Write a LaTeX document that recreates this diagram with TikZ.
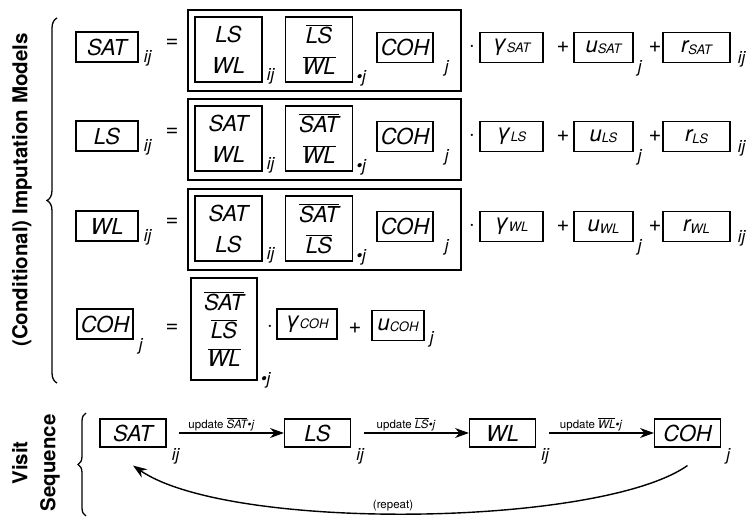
\documentclass[tikz,border=0pt]{standalone}
\usepackage{fontspec}
\setmainfont{TeX Gyre Heros}
\usetikzlibrary{arrows.meta,positioning,decorations.pathreplacing}

\newcommand{\bv}[1]{$\overline{\hbox{#1}}$}
\newcommand{\lowsub}[1]{\raisebox{-1.5pt}{\fontsize{13}{13}\selectfont #1}}

\tikzset{
  varbox/.style={draw, line width=1.1pt, minimum height=30pt, inner sep=0pt, font=\fontsize{22}{24}\selectfont\itshape},
  grpbox/.style={draw, line width=1.1pt, minimum width=67pt, minimum height=65pt, inner sep=0pt, align=center, font=\fontsize{22}{31}\selectfont\itshape},
  idx/.style={inner sep=0pt, font=\fontsize{17}{17}\selectfont\itshape},
  op/.style={inner sep=0pt, font=\fontsize{22}{22}\selectfont},
  mul/.style={inner sep=0pt, font=\fontsize{9}{9}\selectfont},
  upd/.style={inner sep=1.5pt, font=\fontsize{11.5}{11.5}\selectfont},
  side/.style={rotate=90, align=center, font=\fontsize{20.5}{28}\selectfont\bfseries},
  seq/.style={-{Stealth[length=14pt,width=10pt]}, line width=1.4pt},
  accol/.style={decorate, line width=1.3pt}
}

\begin{document}
\begin{tikzpicture}[x=1pt,y=-1pt]
\useasboundingbox (0,0) rectangle (750,518);

% titres a gauche
\node[side] (lblimp) at (22,190) {(Conditional) Imputation Models};
\draw[accol, decoration={brace,amplitude=10pt}] (57,383) -- (57,18);
\node[side] (lblvis) at (36,463) {Visit\\Sequence};
\draw[accol, decoration={brace,amplitude=8pt}] (86,516) -- (86,413);

\foreach \vn/\yc/\va/\vb in {SAT/47/LS/WL,LS/136/SAT/WL,WL/226/SAT/LS} % les trois modeles
{
  \node[varbox, minimum width=62pt] (v\vn) at (107,\yc) {\vn};
  \node[idx, anchor=base west] (iv\vn) at ([xshift=5pt,yshift=0pt]v\vn.south east) {ij};
  \node[op] (eq\vn) at (172,\yc-4) {=};
  \draw[line width=1.1pt] (188,\yc-37) rectangle (461,\yc+44);
  \node[grpbox] (pa\vn) at (228.5,\yc+2.5) {\va\\\vb};
  \node[idx, anchor=base west] (ipa\vn) at ([xshift=4pt,yshift=2pt]pa\vn.south east) {ij};
  \node[grpbox] (pb\vn) at (319,\yc+2.5) {\bv{\va}\\\bv{\vb}};
  \node[idx, anchor=base west] (ipb\vn) at ([xshift=3pt,yshift=0pt]pb\vn.south east) {\textbullet j};
  \node[varbox, minimum width=56pt] (c\vn) at (405,\yc+0.5) {COH};
  \node[idx, anchor=base west] (ic\vn) at ([xshift=11pt,yshift=-9pt]c\vn.south east) {j};
  \node[mul] (dot\vn) at (472,\yc) {\textbullet};
  \node[varbox, minimum width=63pt] (g\vn) at (511.5,\yc+0.5) {γ\lowsub{\vn}};
  \node[op] (pl\vn) at (563,\yc) {+};
  \node[varbox, minimum width=59pt] (u\vn) at (603.5,\yc+0.5) {u\lowsub{\vn}};
  \node[idx, anchor=base west] (iu\vn) at ([xshift=4pt,yshift=-9pt]u\vn.south east) {j};
  \node[op] (pm\vn) at (655,\yc) {+};
  \node[varbox, minimum width=67pt] (e\vn) at (696.5,\yc+0.5) {r\lowsub{\vn}};
  \node[idx, anchor=base west] (ie\vn) at ([xshift=7pt,yshift=0pt]e\vn.south east) {ij};
}

% modele de niveau 2
\node[varbox, minimum width=56pt] (vCOH) at (105,324) {COH};
\node[idx, anchor=base west] (ivCOH) at ([xshift=5pt,yshift=-11pt]vCOH.south east) {j};
\node[op] (eqCOH) at (172,328) {=};
\node[grpbox, minimum width=66pt, minimum height=102pt, font=\fontsize{22}{28}\selectfont\itshape] (pCOH) at (224,329) {\bv{SAT}\\\bv{LS}\\\bv{WL}};
\node[idx, anchor=base west] (ipCOH) at ([xshift=3pt,yshift=-4pt]pCOH.south east) {\textbullet j};
\node[mul] (dotCOH) at (270,327) {\textbullet};
\node[varbox, minimum width=60pt] (gCOH) at (307,324) {γ\lowsub{COH}};
\node[op] (plCOH) at (355,328) {+};
\node[varbox, minimum width=52pt] (uCOH) at (398,325.5) {u\lowsub{COH}};
\node[idx, anchor=base west] (iuCOH) at ([xshift=5pt,yshift=-2pt]uCOH.south east) {j};

% sequence de visite
\foreach \vn/\xc/\ix in {SAT/133/ij,LS/317.5/ij,WL/502.5/ij,COH/687.5/j}
{
  \node[varbox, minimum width=66pt, minimum height=28pt] (s\vn) at (\xc,433) {\vn};
  \node[idx, anchor=base west] (is\vn) at ([xshift=5pt,yshift=-13pt]s\vn.south east) {\ix};
}
\foreach \p/\q in {SAT/LS,LS/WL,WL/COH}
  \draw[seq] (is\p.east |- s\p.east) -- (s\q.west) node[upd, above, pos=0.4] {update \bv{\itshape\p}{\itshape\textbullet j}};

\draw[seq] ([yshift=-18pt]sCOH.south) .. controls (600,527) and (230,532) .. ([yshift=-18pt]sSAT.south) node[upd, above, pos=0.53] (rep) {(repeat)};

\end{tikzpicture}
\end{document}
